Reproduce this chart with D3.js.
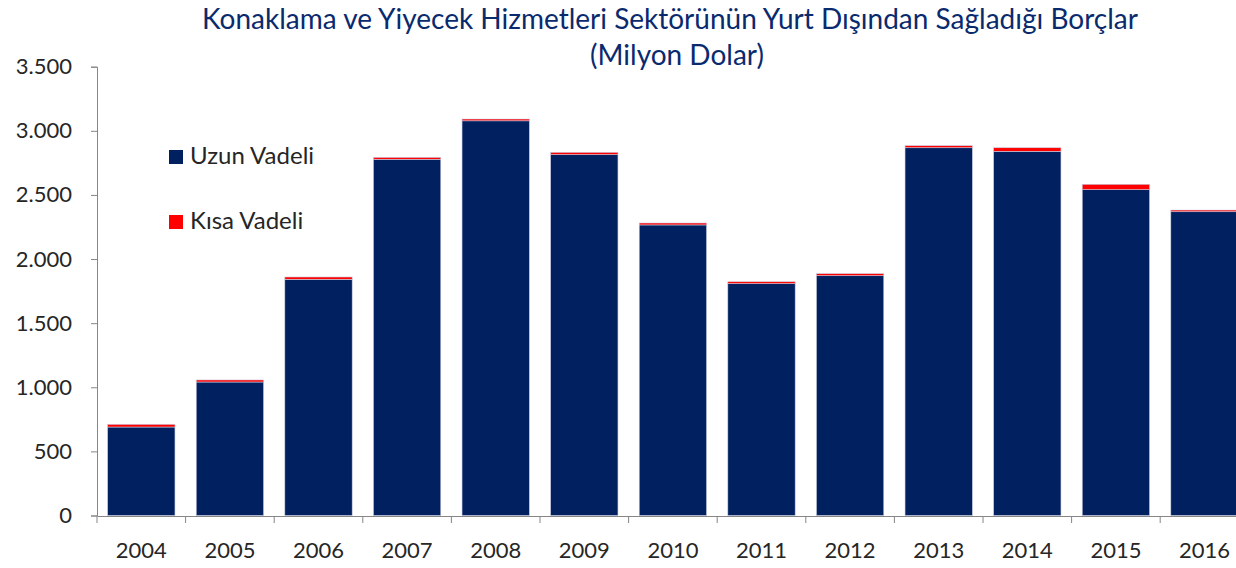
<!DOCTYPE html>
<html>
<head>
<meta charset="utf-8">
<script src="https://cdn.jsdelivr.net/npm/d3@7"></script>
<style>
  body { margin: 0; background: #fff; }
  svg { display: block; font-family: Lato, "Open Sans", sans-serif; }
</style>
</head>
<body>
<div id="chart"></div>
<script>
// data (milyon dolar)
var years = ["2004", "2005", "2006", "2007", "2008", "2009", "2010", "2011", "2012", "2013", "2014", "2015", "2016"];
var uzunVadeli = [690, 1041, 1842, 2778, 3078, 2814, 2266, 1808, 1870, 2868, 2840, 2541, 2369];
var kisaVadeli = [21, 16, 18, 15, 14, 18, 15, 15, 16, 16, 28, 42, 13];
var yTicks = [0, 500, 1000, 1500, 2000, 2500, 3000, 3500];
var seriesNames = ["Uzun Vadeli", "Kısa Vadeli"];
var seriesColors = ["#002060", "#FF0000"];
var titleLines = ["Konaklama ve Yiyecek Hizmetleri Sektörünün Yurt Dışından Sağladığı Borçlar", "(Milyon Dolar)"];

var width = 1236, height = 568;

var svg = d3.select("#chart")
            .append("svg")
            .attr("width", width)
            .attr("height", height);

// build rows for stacking
var rows = years.map(function(y, i) {
    return {year: y, uzun: uzunVadeli[i], kisa: kisaVadeli[i]};
});
var stack = d3.stack().keys(["uzun", "kisa"]);
var stacked = stack(rows);

var step = 88.6;
var x = d3.scaleBand()
    .domain(years)
    .range([97, 97 + step * years.length])
    .paddingInner(0.24)
    .paddingOuter(0.12);

var y = d3.scaleLinear()
    .domain([0, 3500])
    .range([515.5, 66.7]);

var locale = d3.formatLocale({decimal: ",", thousands: ".", grouping: [3], currency: ["", ""]});
var fmt = locale.format(",d");

// bars
svg.append("g")
    .selectAll("g")
    .data(stacked)
    .enter()
    .append("g")
    .attr("fill", function(d, i) { return seriesColors[i]; })
    .selectAll("rect")
    .data(function(d) { return d; })
    .enter()
    .append("rect")
    .attr("x", function(d) { return x(d.data.year); })
    .attr("y", function(d) { return y(d[1]); })
    .attr("width", x.bandwidth())
    .attr("height", function(d) { return y(d[0]) - y(d[1]); })
    .attr("stroke", "#c8cde0")
    .attr("stroke-width", 0.6);

// y axis
var yAxis = svg.append("g")
    .attr("transform", "translate(97,0)")
    .call(d3.axisLeft(y).tickValues(yTicks).tickFormat(fmt).tickSize(6).tickPadding(19));
yAxis.select(".domain").attr("stroke", "#868686");
yAxis.selectAll(".tick line").attr("stroke", "#868686");
yAxis.selectAll("text")
    .attr("fill", "#262626")
    .style("font-size", "22px")
    .style("font-family", "Lato, sans-serif");

// x axis
var xAxis = svg.append("g")
    .attr("transform", "translate(0,516)")
    .call(d3.axisBottom(x).tickSize(0).tickPadding(26));
xAxis.select(".domain").attr("stroke", "#868686");
xAxis.selectAll("text")
    .attr("fill", "#262626")
    .style("font-size", "22px")
    .style("font-family", "Lato, sans-serif");

// tick marks between categories
xAxis.selectAll(".sep")
    .data(years)
    .enter()
    .append("line")
    .attr("class", "sep")
    .attr("x1", function(d) { return x(d) - x.step() * x.paddingOuter(); })
    .attr("x2", function(d) { return x(d) - x.step() * x.paddingOuter(); })
    .attr("y1", 0)
    .attr("y2", 7)
    .attr("stroke", "#868686");

// title
svg.append("text")
    .attr("x", 670)
    .attr("y", 29)
    .attr("text-anchor", "middle")
    .attr("fill", "#0A2A6E")
    .style("font-size", "28px")
    .text(titleLines[0]);

svg.append("text")
    .attr("x", 677)
    .attr("y", 65)
    .attr("text-anchor", "middle")
    .attr("fill", "#0A2A6E")
    .style("font-size", "28px")
    .text(titleLines[1]);

// legend
var legend = svg.selectAll(".legend")
    .data(seriesNames)
    .enter()
    .append("g")
    .attr("class", "legend")
    .attr("transform", function(d, i) { return "translate(169," + (150 + i * 65) + ")"; });

legend.append("rect")
    .attr("width", 14)
    .attr("height", 14)
    .attr("fill", function(d, i) { return seriesColors[i]; });

legend.append("text")
    .attr("x", 21)
    .attr("y", 14)
    .attr("fill", "#262626")
    .style("font-size", "24px")
    .text(function(d) { return d; });
</script>
</body>
</html>
